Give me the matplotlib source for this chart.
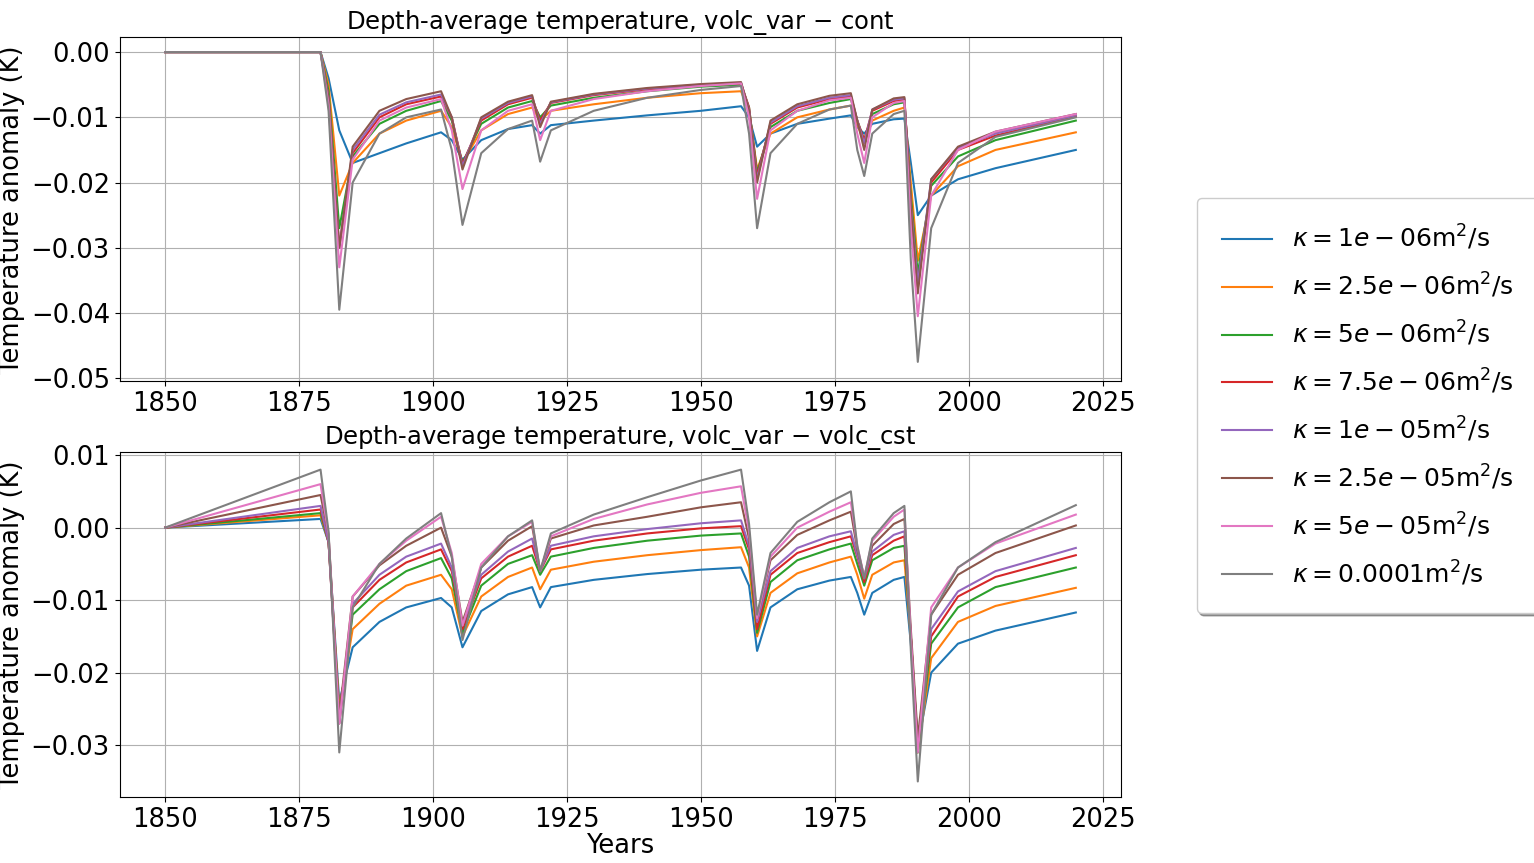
import matplotlib
matplotlib.use('Agg')
import matplotlib.pyplot as plt

#####
# Data

years = [1850, 1879, 1880.5, 1882.5, 1885, 1890, 1895, 1901.5, 1903.5, 1905.5, 1909, 1914,
         1918.5, 1920, 1922, 1930, 1940, 1950, 1957.5, 1959, 1960.5, 1963, 1968, 1974,
         1978, 1979.2, 1980.5, 1982, 1986, 1988, 1989.2, 1990.5, 1993, 1998, 2005, 2020]

kappas = ['1e-06', '2.5e-06', '5e-06', '7.5e-06', '1e-05', '2.5e-05', '5e-05', '0.0001']

# volc_var - cont
top_blue = [0, 0, -0.004, -0.012, -0.017, -0.0155, -0.0140, -0.0123, -0.0135, -0.0165, -0.0135, -0.0118, -0.0112, -0.0125, -0.0112, -0.0105, -0.0097, -0.0090, -0.0083, -0.0100, -0.0145, -0.0125, -0.0110, -0.0102, -0.0097, -0.0115, -0.0125, -0.0110, -0.0103, -0.0102, -0.0170, -0.0250, -0.0220, -0.0195, -0.0178, -0.0150]
top_orange = [0, 0, -0.005, -0.022, -0.017, -0.0125, -0.0105, -0.0090, -0.0115, -0.0170, -0.0120, -0.0095, -0.0085, -0.0105, -0.0090, -0.0080, -0.0070, -0.0063, -0.0060, -0.0090, -0.0180, -0.0125, -0.0100, -0.0088, -0.0082, -0.0110, -0.0140, -0.0105, -0.0090, -0.0085, -0.0200, -0.0320, -0.0220, -0.0175, -0.0150, -0.0123]
top_green = [0, 0, -0.006, -0.027, -0.016, -0.0110, -0.0090, -0.0075, -0.0105, -0.0170, -0.0110, -0.0085, -0.0075, -0.0100, -0.0082, -0.0070, -0.0060, -0.0053, -0.0050, -0.0085, -0.0185, -0.0115, -0.0090, -0.0078, -0.0072, -0.0105, -0.0135, -0.0095, -0.0080, -0.0077, -0.0220, -0.0340, -0.0205, -0.0160, -0.0135, -0.0105]
top_red = [0, 0, -0.007, -0.030, -0.0155, -0.0100, -0.0080, -0.0068, -0.0100, -0.0172, -0.0105, -0.0080, -0.0070, -0.0105, -0.0078, -0.0066, -0.0057, -0.0051, -0.0048, -0.0085, -0.0190, -0.0110, -0.0085, -0.0072, -0.0068, -0.0105, -0.0135, -0.0090, -0.0075, -0.0073, -0.0230, -0.0360, -0.0200, -0.0150, -0.0128, -0.0098]
top_purple = [0, 0, -0.007, -0.030, -0.0150, -0.0096, -0.0077, -0.0065, -0.0100, -0.0175, -0.0102, -0.0078, -0.0068, -0.0110, -0.0077, -0.0065, -0.0056, -0.0050, -0.0047, -0.0088, -0.0195, -0.0108, -0.0083, -0.0070, -0.0066, -0.0105, -0.0140, -0.0088, -0.0073, -0.0071, -0.0235, -0.0355, -0.0195, -0.0147, -0.0125, -0.0097]
top_brown = [0, 0, -0.007, -0.030, -0.0145, -0.0090, -0.0072, -0.0060, -0.0100, -0.0180, -0.0100, -0.0076, -0.0066, -0.0115, -0.0076, -0.0064, -0.0055, -0.0049, -0.0046, -0.0090, -0.0200, -0.0105, -0.0080, -0.0067, -0.0063, -0.0105, -0.0150, -0.0088, -0.0071, -0.0069, -0.0240, -0.0370, -0.0195, -0.0145, -0.0122, -0.0095]
top_pink = [0, 0, -0.008, -0.033, -0.0165, -0.0105, -0.0085, -0.0072, -0.0120, -0.0210, -0.0120, -0.0090, -0.0080, -0.0135, -0.0090, -0.0072, -0.0060, -0.0052, -0.0048, -0.0100, -0.0225, -0.0120, -0.0090, -0.0074, -0.0070, -0.0125, -0.0170, -0.0100, -0.0078, -0.0075, -0.0270, -0.0405, -0.0220, -0.0150, -0.0122, -0.0095]
top_gray = [0, 0, -0.009, -0.0395, -0.0200, -0.0125, -0.0100, -0.0088, -0.0150, -0.0265, -0.0155, -0.0118, -0.0105, -0.0168, -0.0120, -0.0090, -0.0070, -0.0058, -0.0052, -0.0125, -0.0270, -0.0155, -0.0110, -0.0088, -0.0082, -0.0150, -0.0190, -0.0125, -0.0095, -0.0090, -0.0320, -0.0475, -0.0270, -0.0170, -0.0130, -0.0100]

# volc_var - volc_cst
bot_blue = [0, 0.0012, -0.002, -0.024, -0.0165, -0.013, -0.011, -0.0097, -0.011, -0.0165, -0.0115, -0.0092, -0.0082, -0.011, -0.0082, -0.0072, -0.0064, -0.0058, -0.0055, -0.008, -0.017, -0.011, -0.0085, -0.0073, -0.0068, -0.009, -0.012, -0.0090, -0.0072, -0.0068, -0.016, -0.030, -0.020, -0.016, -0.0142, -0.0117]
bot_orange = [0, 0.0017, -0.002, -0.025, -0.014, -0.0105, -0.008, -0.0065, -0.0085, -0.015, -0.0095, -0.0068, -0.0055, -0.0085, -0.0058, -0.0047, -0.0038, -0.0031, -0.0027, -0.0055, -0.015, -0.009, -0.0063, -0.0048, -0.004, -0.0065, -0.0098, -0.0065, -0.0048, -0.0045, -0.015, -0.031, -0.018, -0.013, -0.0108, -0.0083]
bot_green = [0, 0.002, -0.002, -0.026, -0.012, -0.0085, -0.0060, -0.0042, -0.007, -0.0145, -0.008, -0.005, -0.0038, -0.0065, -0.0040, -0.0028, -0.0018, -0.0011, -0.0008, -0.004, -0.0145, -0.0075, -0.0045, -0.003, -0.0022, -0.005, -0.008, -0.0045, -0.0028, -0.0025, -0.015, -0.031, -0.016, -0.011, -0.0082, -0.0055]
bot_red = [0, 0.0025, -0.002, -0.027, -0.011, -0.0072, -0.0048, -0.003, -0.006, -0.014, -0.007, -0.004, -0.0025, -0.006, -0.003, -0.0018, -0.0008, -0.0001, 0.0002, -0.003, -0.014, -0.0065, -0.0035, -0.002, -0.0012, -0.004, -0.0075, -0.0038, -0.0018, -0.0012, -0.015, -0.030, -0.015, -0.0095, -0.0068, -0.0038]
bot_purple = [0, 0.003, -0.002, -0.027, -0.0105, -0.0065, -0.004, -0.0022, -0.0055, -0.0135, -0.0065, -0.0033, -0.0015, -0.006, -0.0025, -0.0012, -0.0002, 0.0006, 0.001, -0.0025, -0.013, -0.006, -0.0028, -0.0012, -0.0005, -0.0038, -0.007, -0.0033, -0.001, -0.0005, -0.015, -0.030, -0.014, -0.0088, -0.006, -0.0028]
bot_brown = [0, 0.0045, -0.001, -0.026, -0.0095, -0.0052, -0.0025, 0.0, -0.004, -0.013, -0.0055, -0.0018, 0.0002, -0.006, -0.0015, 0.0003, 0.0015, 0.0028, 0.0035, -0.0015, -0.0125, -0.0045, -0.001, 0.001, 0.0022, -0.003, -0.0068, -0.0025, 0.0005, 0.0012, -0.014, -0.029, -0.012, -0.0065, -0.0035, 0.0003]
bot_pink = [0, 0.006, -0.001, -0.027, -0.0095, -0.005, -0.0018, 0.0015, -0.0035, -0.0135, -0.005, -0.0012, 0.0008, -0.006, -0.0012, 0.0012, 0.0032, 0.0048, 0.0057, -0.0005, -0.0125, -0.004, 0.0, 0.0022, 0.0035, -0.0025, -0.0068, -0.0018, 0.0015, 0.0025, -0.015, -0.031, -0.011, -0.0055, -0.0022, 0.0018]
bot_gray = [0, 0.008, -0.0005, -0.031, -0.011, -0.005, -0.0015, 0.002, -0.004, -0.0155, -0.0055, -0.0012, 0.001, -0.006, -0.0008, 0.0018, 0.0042, 0.0065, 0.008, 0.0005, -0.012, -0.0035, 0.0008, 0.0035, 0.005, -0.0025, -0.007, -0.0015, 0.002, 0.003, -0.017, -0.035, -0.012, -0.0055, -0.002, 0.0031]

top_series = [top_blue, top_orange, top_green, top_red, top_purple, top_brown, top_pink, top_gray]
bot_series = [bot_blue, bot_orange, bot_green, bot_red, bot_purple, bot_brown, bot_pink, bot_gray]

plt.rcParams['font.size'] = 18.5

fig = plt.figure(figsize=(15.34, 8.63), dpi=100)
ax1 = fig.add_axes([0.078, 0.558, 0.653, 0.399])
ax2 = fig.add_axes([0.078, 0.076, 0.653, 0.400])

for ax, series, title in [(ax1, top_series, 'Depth-average temperature, volc_var $-$ cont'),
                          (ax2, bot_series, 'Depth-average temperature, volc_var $-$ volc_cst')]:
    for k, s in zip(kappas, series):
        ax.plot(years, s, lw=1.5, label=r'$\kappa = %s$m$^2$/s' % k)
    ax.set_title(title, fontsize=17.5, pad=5)
    ax.set_ylabel('Temperature anomaly (K)')
    ax.set_xticks([1850, 1875, 1900, 1925, 1950, 1975, 2000, 2025])
    ax.set_xlim(1841.5, 2028.5)
    ax.grid(True)

ax1.set_ylim(-0.0505, 0.0023)
ax1.set_yticks([0.0, -0.01, -0.02, -0.03, -0.04, -0.05])
ax2.set_ylim(-0.0372, 0.0104)
ax2.set_yticks([0.01, 0.0, -0.01, -0.02, -0.03])
ax2.set_xlabel('Years', labelpad=0)

handles, labels = ax1.get_legend_handles_labels()
fig.legend(handles, labels, loc='center left', bbox_to_anchor=(0.772, 0.53),
           shadow=True, fontsize=18, borderpad=1.0, labelspacing=0.75)

fig.savefig('out.png')
